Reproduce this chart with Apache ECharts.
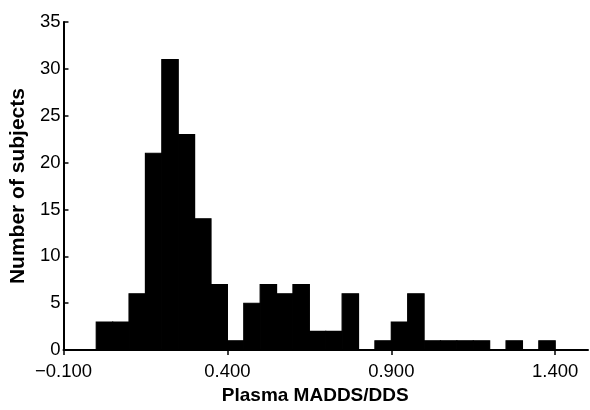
<!DOCTYPE html>
<html>
<head>
<meta charset="utf-8">
<script src="https://cdn.jsdelivr.net/npm/echarts@6/dist/echarts.min.js"></script>
<style>
  html, body { margin: 0; padding: 0; background: #fff; }
  #chart { width: 590px; height: 410px; }
</style>
</head>
<body>
<div id="chart"></div>
<script>
// histogram bins (width 0.05), left edges on the MADDS/DDS scale
const binStart = [0.00, 0.05, 0.10, 0.15, 0.20, 0.25, 0.30, 0.35, 0.40, 0.45,
                  0.50, 0.55, 0.60, 0.65, 0.70, 0.75, 0.80, 0.85, 0.90, 0.95,
                  1.00, 1.05, 1.10, 1.15, 1.20, 1.25, 1.30, 1.35];
const counts = [3, 3, 6, 21, 31, 23, 14, 7, 1, 5,
                7, 6, 7, 2, 2, 6, 0, 1, 3, 6,
                1, 1, 1, 1, 0, 1, 0, 1];
const binWidth = 0.05;
const xTicks = [-0.1, 0.4, 0.9, 1.4];
const yTicks = [0, 5, 10, 15, 20, 25, 30, 35];

// ticks are counted from min, so the axis runs on a shifted scale (x + 0.1)
const shift = -xTicks[0];
const font = 'Liberation Sans, Arial, sans-serif';

const chart = echarts.init(document.getElementById('chart'));

const data = binStart.map((s, i) => [s + shift, s + binWidth + shift, counts[i]]);

const option = {
  animation: false,
  grid: { left: 63, right: 2, top: 22, bottom: 59, containLabel: false },
  xAxis: {
    type: 'value',
    min: 0,
    max: 1.6,
    interval: 0.5,
    name: 'Plasma MADDS/DDS',
    nameLocation: 'middle',
    nameGap: 33,
    nameTextStyle: { color: '#000', fontSize: 19, fontWeight: 'bold', fontFamily: font, padding: [0, 21, 0, 0] },
    axisLine: { lineStyle: { color: '#000', width: 2 } },
    axisTick: { show: true, inside: false, length: 5, lineStyle: { color: '#000', width: 1.5 } },
    axisLabel: {
      color: '#000',
      fontSize: 18.5,
      fontFamily: font,
      margin: 12,
      showMaxLabel: false,
      formatter: v => {
        const real = v - shift;
        const hit = xTicks.find(t => Math.abs(t - real) < 1e-6);
        if (hit === undefined) return '';
        return (hit < 0 ? '\u2212' : '') + Math.abs(hit).toFixed(3);
      }
    },
    splitLine: { show: false }
  },
  yAxis: {
    type: 'value',
    min: yTicks[0],
    max: yTicks[yTicks.length - 1],
    interval: 5,
    name: 'Number of subjects',
    nameLocation: 'middle',
    nameGap: 34,
    nameTextStyle: { color: '#000', fontSize: 21, fontWeight: 'bold', fontFamily: font },
    axisLine: { show: true, lineStyle: { color: '#000', width: 2 } },
    axisTick: { show: true, inside: true, length: 5, lineStyle: { color: '#000', width: 1.5 } },
    axisLabel: { color: '#000', fontSize: 18.5, fontFamily: font, margin: 3 },
    splitLine: { show: false }
  },
  series: [{
    type: 'custom',
    data: data,
    encode: { x: [0, 1], y: 2 },
    renderItem: (params, api) => {
      const h = api.value(2);
      if (!h) return null;
      const p0 = api.coord([api.value(0), 0]);
      const p1 = api.coord([api.value(1), h]);
      return {
        type: 'rect',
        shape: { x: p0[0], y: p1[1], width: p1[0] - p0[0], height: p0[1] - p1[1] },
        style: { fill: '#000', stroke: '#000', lineWidth: 1.2 }
      };
    }
  }]
};

chart.setOption(option);
window.addEventListener('resize', () => chart.resize());
</script>
</body>
</html>
